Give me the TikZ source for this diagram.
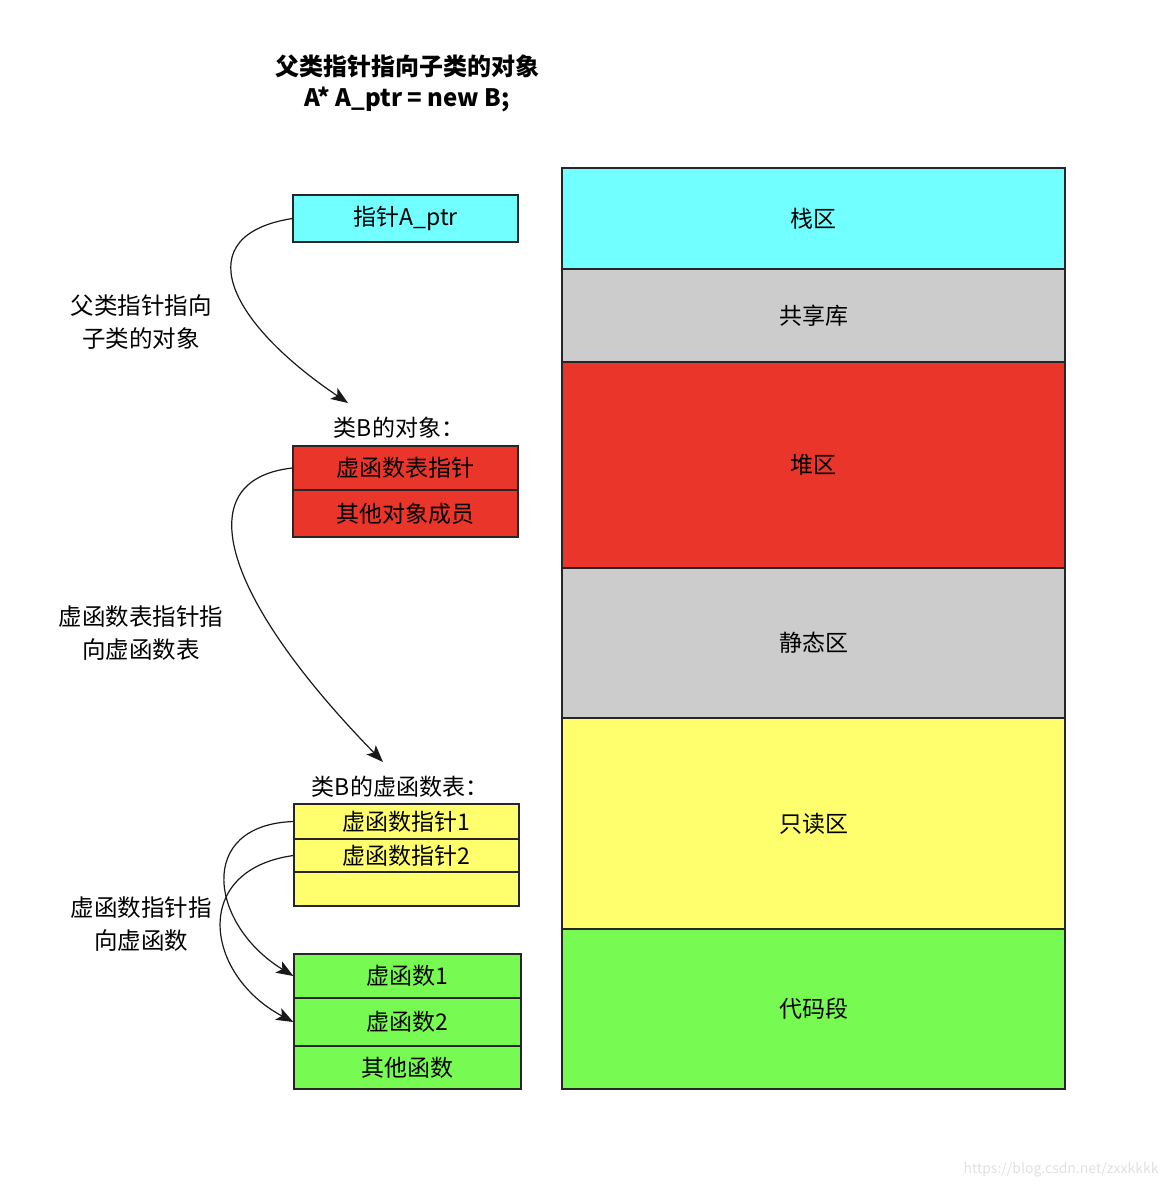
\documentclass[tikz,border=0pt]{standalone}
\usepackage{fontspec}
\setmainfont{Noto Sans CJK SC}
\usetikzlibrary{arrows.meta}
\definecolor{cCyan}{HTML}{72FFFF}
\definecolor{cGray}{HTML}{CCCCCC}
\definecolor{cRed}{HTML}{E9352A}
\definecolor{cYellow}{HTML}{FFFF6E}
\definecolor{cGreen}{HTML}{77FA52}
\tikzset{
  box/.style={draw=black!85, line width=1.3pt, inner sep=0pt, font=\fontsize{23}{27}\selectfont, text=black},
  lbl/.style={align=center, font=\fontsize{23.5}{33}\selectfont, text=black},
  conn/.style={line width=1.2pt, draw=black!90, -{Stealth[length=17pt,width=13pt,inset=4pt]}},
}
\begin{document}
\begin{tikzpicture}[x=1pt,y=-1pt]
\useasboundingbox (0,0) rectangle (1172,1188);
% title
\node[align=center, font=\fontsize{24}{31}\selectfont\bfseries] (title) at (407,83) {父类指针指向子类的对象\\A* A\_ptr = new B;};
% memory layout
\node[box, fill=cCyan,   minimum width=503pt, minimum height=101pt] (stack)  at (813.5,218.5) {栈区};
\node[box, fill=cGray,   minimum width=503pt, minimum height=93pt]  (shlib)  at (813.5,315.5) {共享库};
\node[box, fill=cRed,    minimum width=503pt, minimum height=206pt] (heap)   at (813.5,465) {堆区};
\node[box, fill=cGray,   minimum width=503pt, minimum height=150pt] (static) at (813.5,643) {静态区};
\node[box, fill=cYellow, minimum width=503pt, minimum height=211pt] (rodata) at (813.5,823.5) {只读区};
\node[box, fill=cGreen,  minimum width=503pt, minimum height=160pt] (code)   at (813.5,1009) {代码段};
% pointer
\node[box, fill=cCyan, minimum width=225pt, minimum height=47pt] (aptr) at (405.5,218.5) {指针A\_ptr};
% object B
\node[font=\fontsize{23}{27}\selectfont] (objlbl) at (399,428) {类B的对象：};
\node[box, fill=cRed, minimum width=225pt, minimum height=44pt] (vptr) at (405.5,468) {虚函数表指针};
\node[box, fill=cRed, minimum width=225pt, minimum height=47pt] (other) at (405.5,513.5) {其他对象成员};
% vtable
\node[font=\fontsize{23}{27}\selectfont] (vtlbl) at (400,787) {类B的虚函数表：};
\node[box, fill=cYellow, minimum width=225pt, minimum height=35pt] (vf1p) at (406.5,821.5) {虚函数指针1};
\node[box, fill=cYellow, minimum width=225pt, minimum height=33pt] (vf2p) at (406.5,855.5) {虚函数指针2};
\node[box, fill=cYellow, minimum width=225pt, minimum height=34pt] (vfe)  at (406.5,889) {};
% functions
\node[box, fill=cGreen, minimum width=227pt, minimum height=44pt] (f1) at (407.5,976) {虚函数1};
\node[box, fill=cGreen, minimum width=227pt, minimum height=48pt] (f2) at (407.5,1022) {虚函数2};
\node[box, fill=cGreen, minimum width=227pt, minimum height=43pt] (f3) at (407.5,1067.5) {其他函数};
% side labels
\node[lbl] (l1) at (141,322.5) {父类指针指向\\子类的对象};
\node[lbl] (l2) at (141,633.5) {虚函数表指针指\\向虚函数表};
\node[lbl] (l3) at (141,924.5) {虚函数指针指\\向虚函数};
% arrow end points
\coordinate (e1) at (348,403);
\coordinate (e2) at (383,762);
% connectors
\draw[conn] (aptr.west) .. controls (188,235) and (225,320) .. (e1);
\draw[conn] (vptr.west) .. controls (185,480) and (225,600) .. (e2);
\draw[conn] (vf1p.west) .. controls (195,825) and (210,925) .. (f1.west);
\draw[conn] (vf2p.west) .. controls (190,870) and (205,975) .. (f2.west);
% watermark
\node[text=black!12, font=\fontsize{14}{16}\selectfont, anchor=east] (wm) at (1162,1170) {https://blog.csdn.net/zxxkkkk};
\end{tikzpicture}
\end{document}
